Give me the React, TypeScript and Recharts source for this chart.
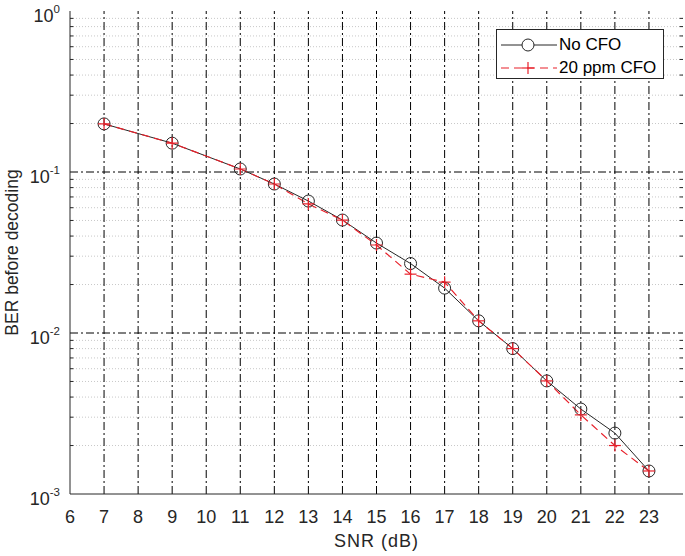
import { LineChart, Line, XAxis, YAxis, ReferenceLine } from 'recharts'

const snr = [7, 9, 11, 12, 13, 14, 15, 16, 17, 18, 19, 20, 21, 22, 23]
const berNoCfo = [0.199, 0.151, 0.1044, 0.0842, 0.066, 0.0503, 0.0362, 0.027, 0.019, 0.0119, 0.008, 0.00504, 0.00337, 0.00239, 0.00139]
const ber20ppm = [0.199, 0.151, 0.1044, 0.0842, 0.0633, 0.0503, 0.0352, 0.0232, 0.0207, 0.0119, 0.008, 0.00504, 0.0031, 0.002, 0.00139]
const xTicks = [6, 7, 8, 9, 10, 11, 12, 13, 14, 15, 16, 17, 18, 19, 20, 21, 22, 23]
const yTicks = [1, 0.1, 0.01, 0.001]
const minorY = [0.002, 0.003, 0.004, 0.005, 0.006, 0.007, 0.008, 0.009, 0.02, 0.03, 0.04, 0.05, 0.06, 0.07, 0.08, 0.09, 0.2, 0.3, 0.4, 0.5, 0.6, 0.7, 0.8, 0.9]
const vGrid = [7, 8, 9, 10, 11, 12, 13, 14, 15, 16, 17, 18, 19, 20, 21, 22, 23]

const data = snr.map((s, i) => ({ snr: s, noCfo: berNoCfo[i], cfo: ber20ppm[i] }))

const TXT = '#262626'
const RED = '#e8202a'
const DASHDOT = '8 3 2 3'
const FONT = '"Liberation Sans", Arial, sans-serif'

const YTick = ({ x, y, payload }: any) => {
  const exp = Math.round(Math.log10(payload.value))
  return (
    <text x={x - 2} y={y + 11} textAnchor="end" fill={TXT} fontSize={18} fontFamily={FONT}>
      10<tspan dy={-9} fontSize={11.5}>{exp}</tspan>
    </text>
  )
}

const Circle = (p: any) => (
  <circle key={p.index} cx={p.cx} cy={p.cy} r={6} fill="none" stroke={TXT} strokeWidth={1} />
)

const Plus = (p: any) => (
  <g key={p.index}>
    <line x1={p.cx - 6} x2={p.cx + 6} y1={p.cy} y2={p.cy} stroke={RED} strokeWidth={1.2} />
    <line x1={p.cx} x2={p.cx} y1={p.cy - 6} y2={p.cy + 6} stroke={RED} strokeWidth={1.2} />
  </g>
)

// legend box sits inside the top-right corner of the plot
const LegendBox = () => (
  <div style={{ position: 'absolute', left: 496, top: 29, width: 166, height: 48, border: `1px solid ${TXT}`, background: '#fff', fontFamily: FONT, fontSize: 17, color: '#000' }}>
    <div style={{ display: 'flex', alignItems: 'center', height: 23, marginTop: 3 }}>
      <svg width={62} height={20}>
        <line x1={4} x2={60} y1={10} y2={10} stroke={TXT} strokeWidth={1} />
        <circle cx={31} cy={10} r={6} fill="#fff" stroke={TXT} />
      </svg>
      <span>No CFO</span>
    </div>
    <div style={{ display: 'flex', alignItems: 'center', height: 23 }}>
      <svg width={62} height={20}>
        <line x1={4} x2={60} y1={10} y2={10} stroke={RED} strokeWidth={1.2} strokeDasharray="8 5" />
        <line x1={25} x2={37} y1={10} y2={10} stroke={RED} strokeWidth={1.2} />
        <line x1={31} x2={31} y1={4} y2={16} stroke={RED} strokeWidth={1.2} />
      </svg>
      <span>20 ppm CFO</span>
    </div>
  </div>
)

export default function App() {
  return (
    <div style={{ position: 'absolute', left: 0, top: 0, width: 685, height: 556, background: '#fff' }}>
      <LineChart width={685} height={556} data={data} margin={{ top: 11, right: 2, left: 0, bottom: 0 }}>
        {minorY.map(v => (
          <ReferenceLine key={'m' + v} y={v} stroke="#c8c8c8" strokeDasharray="1 2" />
        ))}
        {minorY.map(v => (
          <ReferenceLine key={'tl' + v} segment={[{ x: 6, y: v }, { x: 6.1, y: v }]} stroke={TXT} />
        ))}
        {minorY.map(v => (
          <ReferenceLine key={'tr' + v} segment={[{ x: 23.9, y: v }, { x: 24, y: v }]} stroke={TXT} />
        ))}
        {vGrid.map(v => (
          <ReferenceLine key={'v' + v} x={v} stroke="#000" strokeDasharray={DASHDOT} />
        ))}
        {[0.1, 0.01].map(v => (
          <ReferenceLine key={'h' + v} y={v} stroke="#000" strokeDasharray={DASHDOT} />
        ))}
        <XAxis
          dataKey="snr"
          type="number"
          domain={[6, 24]}
          ticks={xTicks}
          interval={0}
          tickLine={false}
          axisLine={{ stroke: TXT }}
          tickMargin={10}
          tick={{ fontSize: 18, fill: TXT, fontFamily: FONT }}
          height={62}
          label={{ value: 'SNR (dB)', position: 'insideBottom', offset: 9, fontSize: 18, fill: TXT, fontFamily: FONT, letterSpacing: 1 }}
        />
        <XAxis xAxisId="top" orientation="top" dataKey="snr" type="number" domain={[6, 24]} tick={false} tickLine={false} axisLine={{ stroke: TXT }} height={0} />
        <YAxis
          scale="log"
          domain={[0.001, 1]}
          ticks={yTicks}
          interval={0}
          allowDataOverflow
          tickLine={false}
          axisLine={{ stroke: TXT }}
          tick={<YTick />}
          width={70}
          label={{ value: 'BER before decoding', angle: -90, position: 'insideLeft', offset: 12, fontSize: 17.5, fill: TXT, fontFamily: FONT, style: { textAnchor: 'middle' } }}
        />
        <YAxis yAxisId="right" orientation="right" scale="log" domain={[0.001, 1]} tick={false} tickLine={false} axisLine={{ stroke: TXT }} width={0} />
        <Line dataKey="noCfo" stroke={TXT} strokeWidth={1} dot={Circle} isAnimationActive={false} />
        <Line dataKey="cfo" stroke={RED} strokeWidth={1.2} strokeDasharray="8 5" dot={Plus} isAnimationActive={false} />
      </LineChart>
      <LegendBox />
    </div>
  )
}
